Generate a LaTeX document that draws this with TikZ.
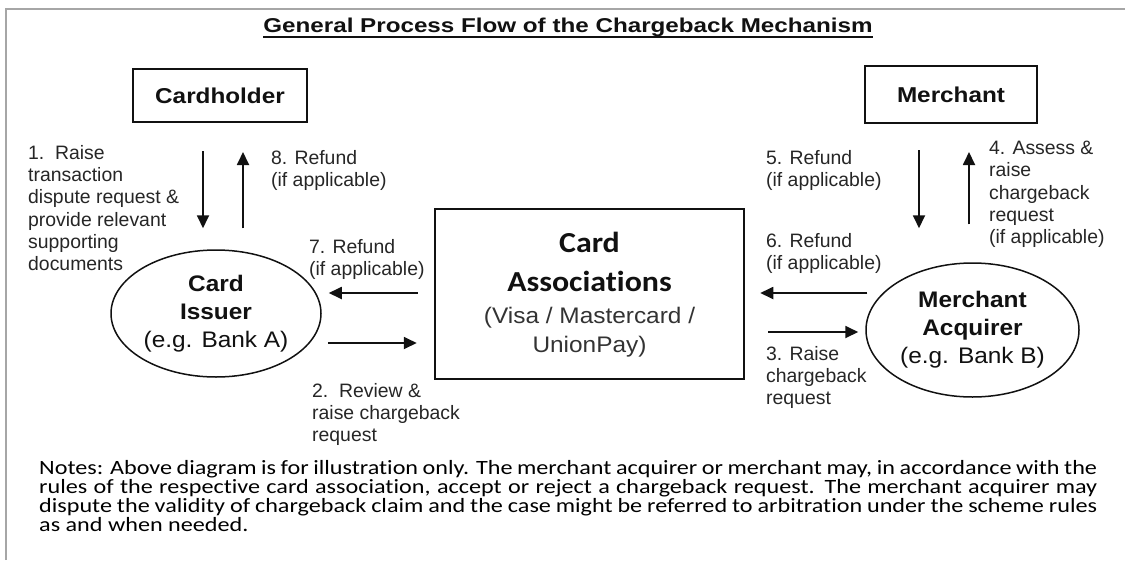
\documentclass[tikz,border=0pt]{standalone}
\usepackage{fontspec}
\usepackage{graphicx}
\setmainfont{Liberation Sans}
\newfontfamily\titlefam[FakeStretch=1.21]{Liberation Sans}
\newfontfamily\boxfam[FakeStretch=1.13]{Liberation Sans}
\newfontfamily\ellfam[FakeStretch=1.085]{Liberation Sans}
\newfontfamily\labfam{Liberation Sans}
\newfontfamily\cafam[FakeStretch=1.1,Ligatures=CommonOff]{Carlito}
\newfontfamily\notefam[Ligatures=CommonOff]{Carlito}
\usetikzlibrary{arrows.meta,shapes.geometric}
\definecolor{framegray}{HTML}{A6A6A6}
\definecolor{labgray}{HTML}{262626}
\definecolor{inkblack}{HTML}{111111}
\definecolor{vgray}{HTML}{333333}
\newcommand\noteline[1]{\noindent\scalebox{1.19}[1]{\makebox[889pt][s]{#1}}\par}
\begin{document}
\begin{tikzpicture}[x=1pt,y=-1pt,
  arr/.style={draw=inkblack,line width=1.8pt,-{Triangle[length=13pt,width=12pt]}},
  boxnode/.style={draw=inkblack,line width=2pt,minimum width=174pt,minimum height=53pt,inner sep=0pt,font=\boxfam\bfseries\fontsize{21.5}{26}\selectfont,text=inkblack},
  ellnode/.style={draw=inkblack,line width=1.5pt,ellipse,inner sep=0pt,align=center,font=\ellfam\fontsize{22.5}{28}\selectfont,text=inkblack},
  lab/.style={anchor=north west,inner sep=0pt,align=left,font=\labfam\fontsize{19.4}{22.3}\selectfont,text=labgray},
]
\useasboundingbox (0,0) rectangle (1125,560);
\fill[white] (0,0) rectangle (1125,560);
\draw[framegray,line width=2pt] (6,560) -- (6,9) -- (1125,9);

% title
\node[anchor=base,inner sep=0pt,font=\titlefam\bfseries\fontsize{20}{24}\selectfont,text=inkblack] (title) at (568,32.3) {General Process Flow of the Chargeback Mechanism};
\draw[inkblack,line width=2pt] ([yshift=-5pt]title.base west) -- ([yshift=-5pt]title.base east);

% boxes
\node[boxnode] (ch) at (220,95.5) {Cardholder};
\node[boxnode,minimum width=172pt,minimum height=57pt] (me) at (951,94.5) {Merchant};

% ellipses
\node[ellnode,minimum width=210pt,minimum height=127pt] (ci) at (216,313.5) {{\bfseries Card}\\{\bfseries Issuer}\\(e.g. Bank A)};
\node[ellnode,minimum width=213pt,minimum height=134pt] (ma) at (972.5,330) {{\bfseries Merchant}\\{\bfseries Acquirer}\\(e.g. Bank B)};

% card associations
\node[draw=inkblack,line width=2.5pt,minimum width=309pt,minimum height=170pt,inner sep=0pt] (ca) at (589.5,294) {};
\node[anchor=north,inner sep=0pt,align=center,font=\ellfam\fontsize{22.5}{29}\selectfont,text=inkblack] (catext) at (589.5,232) {{\cafam\bfseries\fontsize{29}{29}\selectfont Card}\\[10pt]{\cafam\bfseries\fontsize{29}{29}\selectfont Associations}\\[3pt]{\color{vgray}(Visa / Mastercard /}\\{\color{vgray}UnionPay)}};

% labels
\node[lab] (l1) at (28,145) {1.\ \ Raise\\transaction\\dispute request \&\\provide relevant\\supporting\\documents};
\node[lab] (l8) at (271,150) {8. Refund\\(if applicable)};
\node[lab] (l7) at (309,239) {7. Refund\\(if applicable)};
\node[lab] (l2) at (312,383) {2.\ \ Review \&\\raise chargeback\\request};
\node[lab] (l5) at (766,150) {5. Refund\\(if applicable)};
\node[lab] (l6) at (766,233) {6. Refund\\(if applicable)};
\node[lab] (l4) at (989,141) {4. Assess \&\\raise\\chargeback\\request\\(if applicable)};
\node[lab] (l3) at (766,346) {3. Raise\\chargeback\\request};

% arrow guide coordinates
\coordinate (x1) at (203,0);
\coordinate (x8) at (243,0);
\coordinate (x5) at (919,0);
\coordinate (x4) at (969,0);
\coordinate (y7) at (0,293);
\coordinate (y2) at (0,343);
\coordinate (y6) at (0,293);
\coordinate (y3) at (0,332);

\draw[arr,shorten <=28pt,shorten >=21pt] (ch.south -| x1) -- (ci.north -| x1);
\draw[arr,shorten <=21pt,shorten >=29pt] (ci.north -| x8) -- (ch.south -| x8);
\draw[arr,shorten <=26pt,shorten >=34pt] (me.south -| x5) -- (ma.north -| x5);
\draw[arr,shorten <=38pt,shorten >=28pt] (ma.north -| x4) -- (me.south -| x4);
\draw[arr,shorten <=16pt,shorten >=7pt] (ca.west |- y7) -- (ci.east |- y7);
\draw[arr,shorten <=6pt,shorten >=17pt] (ci.east |- y2) -- (ca.west |- y2);
\draw[arr,shorten <=-2pt,shorten >=15pt] (ma.west |- y6) -- (ca.east |- y6);
\draw[arr,shorten <=23pt,shorten >=7pt] (ca.east |- y3) -- (ma.west |- y3);

% notes
\node[anchor=base west,inner sep=0pt,font=\notefam\fontsize{20.3}{19}\selectfont,text=black] (notes) at (39,474) {\parbox[t]{1058pt}{\lineskiplimit=-100pt
\noteline{Notes: Above diagram is for illustration only. The merchant acquirer or merchant may, in accordance with the}
\noteline{rules of the respective card association, accept or reject a chargeback request. The merchant acquirer may}
\noteline{dispute the validity of chargeback claim and the case might be referred to arbitration under the scheme rules}
\noindent\scalebox{1.19}[1]{as and when needed.}}};
\end{tikzpicture}
\end{document}
